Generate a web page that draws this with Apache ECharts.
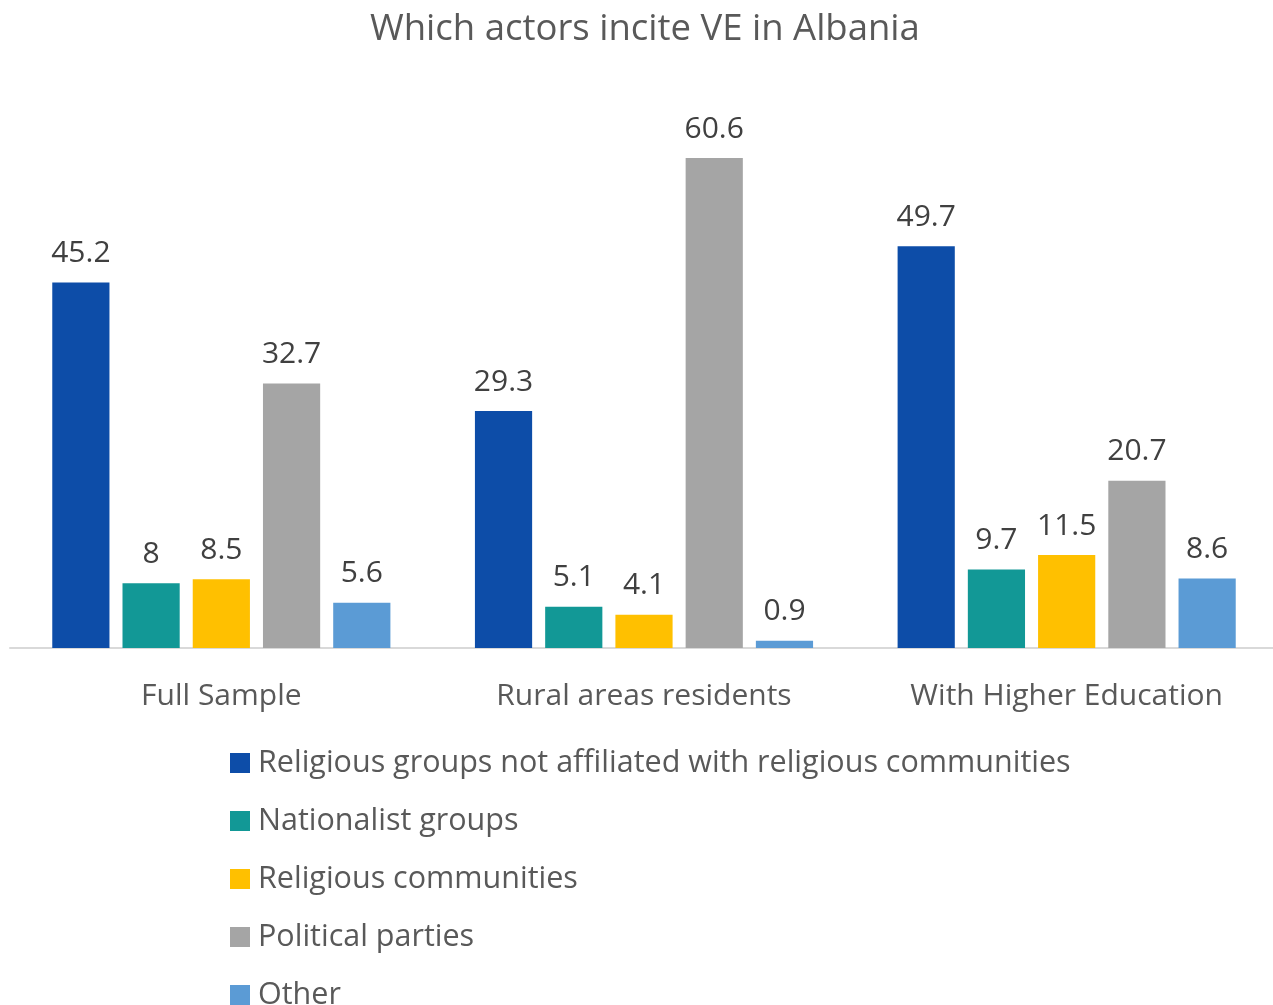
<!DOCTYPE html>
<html>
<head>
<meta charset="utf-8">
<script src="https://cdn.jsdelivr.net/npm/echarts@6/dist/echarts.min.js"></script>
<style>
  html, body { margin: 0; padding: 0; background: #fff; overflow: hidden; }
  #chart { width: 1280px; height: 1005px; }
</style>
</head>
<body>
<div id="chart"></div>
<script>
const categories = ['Full Sample', 'Rural areas residents', 'With Higher Education'];
const seriesNames = [
  'Religious groups not affiliated with religious communities',
  'Nationalist groups',
  'Religious communities',
  'Political parties',
  'Other'
];
const religiousGroups = [45.2, 29.3, 49.7];
const nationalistGroups = [8, 5.1, 9.7];
const religiousCommunities = [8.5, 4.1, 11.5];
const politicalParties = [32.7, 60.6, 20.7];
const other = [5.6, 0.9, 8.6];
const colors = ['#0D4DA8', '#129896', '#FFC000', '#A5A5A5', '#5B9BD5'];

const font = '"Segoe UI", "Open Sans", "Noto Sans", sans-serif';
const values = [religiousGroups, nationalistGroups, religiousCommunities, politicalParties, other];

const chart = echarts.init(document.getElementById('chart'));
chart.setOption({
  animation: false,
  color: colors,
  title: {
    text: 'Which actors incite VE in Albania',
    left: 365,
    top: 6,
    textStyle: { fontFamily: font, fontSize: 36.5, fontWeight: 'normal', color: '#595959' }
  },
  legend: {
    orient: 'vertical',
    left: 225,
    top: 741,
    height: 320,
    itemWidth: 20,
    itemHeight: 20,
    itemGap: 24,
    icon: 'rect',
    textStyle: { fontFamily: font, fontSize: 30.5, color: '#595959', padding: [0, 0, 0, 3], lineHeight: 34 },
    data: seriesNames
  },
  grid: { left: 10, width: 1268, top: 82, height: 566 },
  xAxis: {
    type: 'category',
    data: categories,
    axisLine: { lineStyle: { color: '#D9D9D9', width: 2 } },
    axisTick: { show: false },
    axisLabel: { fontFamily: font, fontSize: 30, color: '#595959', margin: 33 }
  },
  yAxis: {
    type: 'value',
    min: 0,
    max: 70,
    show: false,
    splitLine: { show: false }
  },
  series: seriesNames.map((name, i) => ({
    name,
    type: 'bar',
    data: values[i],
    barGap: '22.8%',
    barCategoryGap: '20%',
    itemStyle: { color: colors[i] },
    label: {
      show: true,
      position: 'top',
      distance: 14,
      fontFamily: font,
      fontSize: 30,
      color: '#404040'
    }
  }))
});
</script>
</body>
</html>
